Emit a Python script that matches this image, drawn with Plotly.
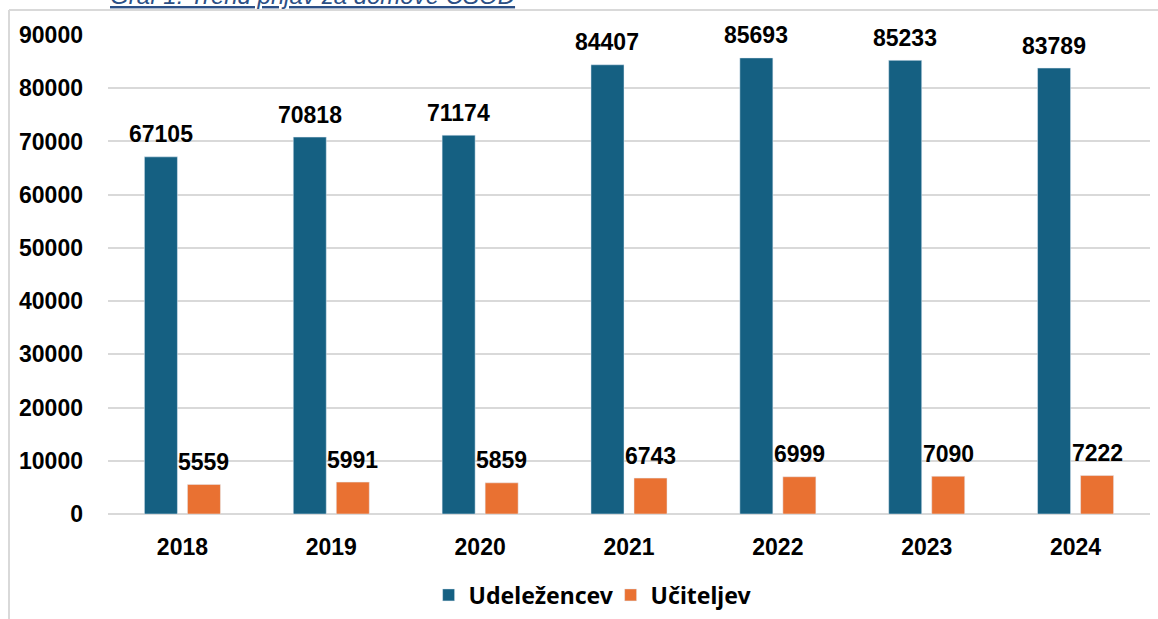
import plotly.graph_objects as go

years = ["2018", "2019", "2020", "2021", "2022", "2023", "2024"]
udelezencev = [67105, 70818, 71174, 84407, 85693, 85233, 83789]
uciteljev = [5559, 5991, 5859, 6743, 6999, 7090, 7222]
y_ticks = [0, 10000, 20000, 30000, 40000, 50000, 60000, 70000, 80000, 90000]
caption = "Graf 1: Trend prijav za domove CŠOD"

BLUE = "#156082"
ORANGE = "#E97132"
CAP = "#2B4F86"
W = 0.2218
OFF_B = -0.2554
OFF_O = 0.0336
xs = list(range(len(years)))

fig = go.Figure()
fig.add_trace(go.Bar(x=xs, y=udelezencev, name="Udeležencev", marker_color=BLUE,
                     width=W, offset=OFF_B))
fig.add_trace(go.Bar(x=xs, y=uciteljev, name="Učiteljev", marker_color=ORANGE,
                     width=W, offset=OFF_O))

lab_font = dict(family="Liberation Sans, Arial", size=23, color="black", weight="bold")
annos = []
for i, v in enumerate(udelezencev):
    annos.append(dict(x=i + OFF_B + W / 2, y=v, xref="x", yref="y", text=str(v),
                      showarrow=False, yanchor="middle", yshift=22.5, font=lab_font))
for i, v in enumerate(uciteljev):
    annos.append(dict(x=i + OFF_O + W / 2, y=v, xref="x", yref="y", text=str(v),
                      showarrow=False, yanchor="middle", yshift=22.5, font=lab_font))
annos.append(dict(x=0.1967, y=1, xref="paper", yref="paper", text=caption,
                  showarrow=False, xanchor="center", yanchor="bottom", yshift=23.5,
                  font=dict(family="Liberation Sans, Arial", size=24, color=CAP,
                            style="italic", lineposition="under")))

fig.update_layout(
    width=1158, height=619,
    margin=dict(l=108, r=8, t=35, b=105, autoexpand=False),
    paper_bgcolor="white", plot_bgcolor="white",
    barmode="overlay",
    showlegend=True,
    legend=dict(orientation="h", x=0.3077, xanchor="left", y=-0.169, yanchor="middle",
                font=dict(family="Noto Sans", size=23, color="black", weight="bold"),
                entrywidth=137, entrywidthmode="pixels"),
    annotations=annos,
    shapes=[
        dict(type="line", xref="paper", yref="paper", x0=-0.095, x1=1.2, y0=1.052, y1=1.052,
             line=dict(color="#D9D9D9", width=2)),
        dict(type="line", xref="paper", yref="paper", x0=-0.095, x1=-0.095, y0=1.052, y1=-0.5,
             line=dict(color="#D9D9D9", width=2)),
    ],
)
fig.update_xaxes(range=[-0.5, 6.5], tickvals=xs, ticktext=years, showgrid=False,
                 showline=False, zeroline=False, ticks="", ticklabelstandoff=17,
                 automargin=False,
                 tickfont=dict(family="Liberation Sans, Arial", size=23, color="black", weight="bold"))
fig.update_yaxes(range=[0, 90000], tickvals=y_ticks, ticktext=[str(t) for t in y_ticks],
                 showgrid=True, gridcolor="#D9D9D9",
                 gridwidth=1.5, zeroline=True, zerolinecolor="#D9D9D9", zerolinewidth=1.5,
                 showline=False, ticks="", ticklabelstandoff=24, automargin=False,
                 tickfont=dict(family="Liberation Sans, Arial", size=23, color="black", weight="bold"))

fig.write_html("out.html", config={"displayModeBar": False},
               post_script="document.body.style.margin='0';document.body.style.overflow='hidden';")
